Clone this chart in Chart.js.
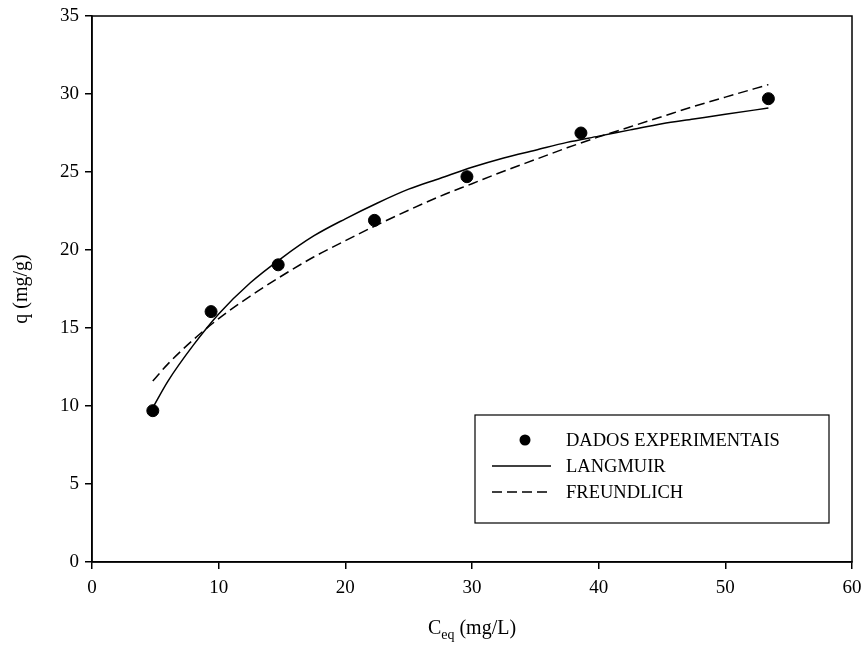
<!DOCTYPE html>
<html>
<head>
<meta charset="utf-8">
<script src="https://cdn.jsdelivr.net/npm/chart.js@4.4.1/dist/chart.umd.min.js"></script>
<style>
  html, body { margin: 0; padding: 0; background: #fff; }
  #wrap { width: 867px; height: 662px; }
</style>
</head>
<body>
<div id="wrap"><canvas id="grafico"></canvas></div>
<script>
// dados experimentais
var ceqDados = [4.8, 9.4, 14.7, 22.3, 29.6, 38.6, 53.4];
var qDados = [9.7, 16.05, 19.05, 21.9, 24.7, 27.5, 29.7];

// curvas ajustadas
var ceqCurva = [4.8, 6, 8, 10, 12.5, 15, 17.5, 20, 22.5, 25, 27.5, 30, 32.5, 35, 37.5, 40, 42.5, 45, 47.5, 50, 53.4];
var qLangmuir = [9.9, 11.6, 13.9, 15.9, 17.9, 19.5, 20.9, 22.0, 23.0, 23.9, 24.6, 25.3, 25.9, 26.4, 26.9, 27.3, 27.7, 28.1, 28.4, 28.7, 29.1];
var qFreundlich = [11.6, 12.7, 14.25, 15.6, 17.05, 18.35, 19.55, 20.6, 21.6, 22.55, 23.45, 24.25, 25.05, 25.8, 26.55, 27.25, 27.9, 28.55, 29.2, 29.8, 30.6];

var xTicks = [0, 10, 20, 30, 40, 50, 60];
var yTicks = [0, 5, 10, 15, 20, 25, 30, 35];

var nomes = ['DADOS EXPERIMENTAIS', 'LANGMUIR', 'FREUNDLICH'];
var fonte = '"Liberation Serif", "Times New Roman", serif';
var tracejado = [10, 5];

function pares(xs, ys) {
    var r = [];
    for (var i = 0; i < xs.length; i++) r.push({x: xs[i], y: ys[i]});
    return r;
}

var extras = {
    id: 'extras',
    afterDraw: function(chart) {
        var ctx = chart.ctx;
        var a = chart.chartArea;
        ctx.save();
        // moldura
        ctx.strokeStyle = '#000';
        ctx.lineWidth = 1.5;
        ctx.strokeRect(a.left, a.top, a.right - a.left, a.bottom - a.top);

        // titulo eixo y
        ctx.fillStyle = '#000';
        ctx.font = '20px ' + fonte;
        ctx.textAlign = 'center';
        ctx.textBaseline = 'middle';
        ctx.save();
        ctx.translate(22, (a.top + a.bottom) / 2);
        ctx.rotate(-Math.PI / 2);
        ctx.fillText('q (mg/g)', 0, 0);
        ctx.restore();

        // titulo eixo x com subscrito
        ctx.textAlign = 'left';
        ctx.textBaseline = 'alphabetic';
        var cx = (a.left + a.right) / 2;
        var by = 634;
        ctx.font = '20px ' + fonte;
        var wC = ctx.measureText('C').width;
        var wR = ctx.measureText(' (mg/L)').width;
        ctx.font = '14px ' + fonte;
        var wS = ctx.measureText('eq').width;
        var x0 = cx - (wC + wS + wR) / 2;
        ctx.font = '20px ' + fonte;
        ctx.fillText('C', x0, by);
        ctx.font = '14px ' + fonte;
        ctx.fillText('eq', x0 + wC, by + 5);
        ctx.font = '20px ' + fonte;
        ctx.fillText(' (mg/L)', x0 + wC + wS, by);

        // legenda
        var bx = 475, byy = 415, bw = 354, bh = 108;
        ctx.fillStyle = '#fff';
        ctx.fillRect(bx, byy, bw, bh);
        ctx.lineWidth = 1.2;
        ctx.strokeStyle = '#000';
        ctx.strokeRect(bx, byy, bw, bh);
        var linhas = [440, 466, 492];
        ctx.fillStyle = '#000';
        ctx.font = '18.5px ' + fonte;
        ctx.textBaseline = 'middle';
        for (var i = 0; i < nomes.length; i++) {
            var ly = linhas[i];
            if (i === 0) {
                ctx.beginPath();
                ctx.arc(525, ly, 5.5, 0, Math.PI * 2);
                ctx.fill();
            } else {
                ctx.beginPath();
                ctx.lineWidth = 1.5;
                ctx.setLineDash(i === 2 ? tracejado : []);
                ctx.moveTo(492, ly);
                ctx.lineTo(551, ly);
                ctx.stroke();
                ctx.setLineDash([]);
            }
            ctx.fillText(nomes[i], 566, ly + 1);
        }
        ctx.restore();
    }
};

new Chart('grafico', {
    type: 'scatter',
    data: {
        datasets: [{
            label: nomes[0],
            data: pares(ceqDados, qDados),
            pointRadius: 6,
            pointHoverRadius: 6,
            backgroundColor: '#000',
            borderColor: '#000',
            showLine: false,
            order: 0
        }, {
            label: nomes[1],
            data: pares(ceqCurva, qLangmuir),
            showLine: true,
            pointRadius: 0,
            borderColor: '#000',
            borderWidth: 1.5,
            cubicInterpolationMode: 'monotone',
            order: 1
        }, {
            label: nomes[2],
            data: pares(ceqCurva, qFreundlich),
            showLine: true,
            pointRadius: 0,
            borderColor: '#000',
            borderWidth: 1.5,
            borderDash: tracejado,
            cubicInterpolationMode: 'monotone',
            order: 2
        }]
    },
    options: {
        responsive: true,
        maintainAspectRatio: false,
        animation: false,
        layout: { padding: { top: 16, right: 15, left: 0, bottom: 0 } },
        plugins: {
            legend: { display: false },
            tooltip: { enabled: false }
        },
        scales: {
            x: {
                type: 'linear',
                min: 0, max: 60,
                afterBuildTicks: function(s) { s.ticks = xTicks.map(function(v) { return {value: v}; }); },
                afterFit: function(s) { s.height = 100; s.paddingLeft = 0; s.paddingRight = 0; },
                grid: { drawOnChartArea: false, tickLength: 7, color: '#000', lineWidth: 1.5 },
                border: { display: true, color: '#000', width: 1.5 },
                ticks: { color: '#000', font: { family: fonte, size: 19 }, padding: 8, maxRotation: 0 }
            },
            y: {
                type: 'linear',
                min: 0, max: 35,
                afterBuildTicks: function(s) { s.ticks = yTicks.map(function(v) { return {value: v}; }); },
                afterFit: function(s) { s.width = 92; s.paddingTop = 0; s.paddingBottom = 0; },
                grid: { drawOnChartArea: false, tickLength: 7, color: '#000', lineWidth: 1.5 },
                border: { display: true, color: '#000', width: 1.5 },
                ticks: { color: '#000', font: { family: fonte, size: 19 }, padding: 6 }
            }
        }
    },
    plugins: [extras]
});
</script>
</body>
</html>
